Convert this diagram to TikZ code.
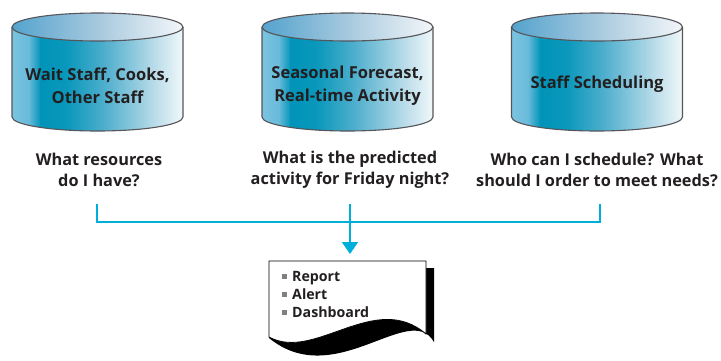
\documentclass[tikz,border=0pt]{standalone}
\usepackage{fontspec}
\setmainfont{Open Sans}
\usetikzlibrary{arrows.meta}

\definecolor{ink}{RGB}{35,31,32}
\definecolor{cylline}{RGB}{85,85,90}
\definecolor{bodyA}{RGB}{124,196,224}
\definecolor{bodyB}{RGB}{104,186,218}
\definecolor{bodyC}{RGB}{0,148,184}
\definecolor{bodyD}{RGB}{10,152,188}
\definecolor{bodyE}{RGB}{82,176,206}
\definecolor{bodyF}{RGB}{172,214,229}
\definecolor{bodyG}{RGB}{242,248,250}
\definecolor{topA}{RGB}{84,163,206}
\definecolor{topB}{RGB}{166,201,222}
\definecolor{topC}{RGB}{243,246,249}
\definecolor{flow}{RGB}{0,174,219}
\definecolor{bulletgray}{RGB}{128,128,128}

% one vertical band of a drum side, from x=#1 to x=#2, colour #3 -> #4
\newcommand{\band}[4]{\shade[left color=#3, right color=#4] (#1,0) rectangle (#2,140);}

% data drum centred at x = #1 (half width 85.5)
\newcommand{\drumshape}[1]{%
  \begin{scope}
    \clip (#1-85.5,27) -- (#1-85.5,117)
      arc[start angle=180, end angle=360, x radius=85.5pt, y radius=14pt]
      -- (#1+85.5,27) -- cycle;
    \band{#1-86}{#1-68.4}{bodyA}{bodyB}
    \band{#1-68.9}{#1-56.5}{bodyB}{bodyC}
    \band{#1-57}{#1-30}{bodyC}{bodyD}
    \band{#1-30.5}{#1+9}{bodyD}{bodyE}
    \band{#1+8.5}{#1+51}{bodyE}{bodyF}
    \band{#1+50.5}{#1+86}{bodyF}{bodyG}
  \end{scope}
  \draw[cylline, line width=1.1pt]
    (#1-85.5,27) -- (#1-85.5,117)
    arc[start angle=180, end angle=360, x radius=85.5pt, y radius=14pt]
    -- (#1+85.5,27);
  \shade[left color=topA, right color=topC, middle color=topB, draw=cylline, line width=1.1pt]
    (#1,27) ellipse[x radius=85.5pt, y radius=14pt];
}

\tikzset{
  drumtext/.style={font=\fontsize{16.5}{23}\selectfont\bfseries, text=ink, align=center, inner sep=0pt},
  asktext/.style={font=\fontsize{16.3}{21.5}\selectfont\bfseries, text=ink, align=center, inner sep=0pt},
  listtext/.style={font=\fontsize{14.2}{18}\selectfont\bfseries, text=ink, align=left, inner sep=0pt, anchor=north west},
  conn/.style={draw=flow, line width=2pt},
  docline/.style={draw=black, line width=0.8pt, fill=white},
}
\newcommand{\sqbullet}{\textcolor{bulletgray}{\rule[2.5pt]{5pt}{5pt}}\hspace{5pt}}

\begin{document}
\begin{tikzpicture}[x=1pt, y=-1pt]
  \useasboundingbox (0,0) rectangle (721,360);

  % data sources
  \drumshape{97.5}
  \drumshape{347.5}
  \drumshape{597}
  \node[drumtext] (d1) at (97.5,86) {Wait Staff, Cooks,\\Other Staff};
  \node[drumtext] (d2) at (347.5,86) {Seasonal Forecast,\\Real-time Activity};
  \node[drumtext] (d3) at (597,84) {Staff Scheduling};

  % questions
  \node[asktext] (q1) at (99,170) {What resources\\do I have?};
  \node[asktext] (q2) at (350,170) {What is the predicted\\activity for Friday night?};
  \node[asktext] (q3) at (597,170) {Who can I schedule? What\\should I order to meet needs?};

  % collector bus
  \coordinate (t1) at (97,204);
  \coordinate (t2) at (350,204);
  \coordinate (t3) at (600,204);
  \coordinate (bus) at (350,222);
  \coordinate (doctop) at (350,254);
  \draw[conn] (t1) |- (t3 |- bus) -- (t3);
  \draw[conn, -{Triangle[width=16pt, length=12pt]}] (t2) -- (doctop);

  % output document with its shadow
  \fill[black] (426,268) -- (434,268) -- (434,342)
    .. controls (410,300) and (335,392) .. (269,338) -- (269,337)
    .. controls (315,362) and (375,290) .. (426,334) -- cycle;
  \draw[docline] (269,261) -- (426,261) -- (426,334)
    .. controls (375,290) and (315,362) .. (269,337) -- cycle;
  \node[listtext] (doc) at (282,271)
    {\sqbullet Report\\ \sqbullet Alert\\ \sqbullet Dashboard};
\end{tikzpicture}
\end{document}
